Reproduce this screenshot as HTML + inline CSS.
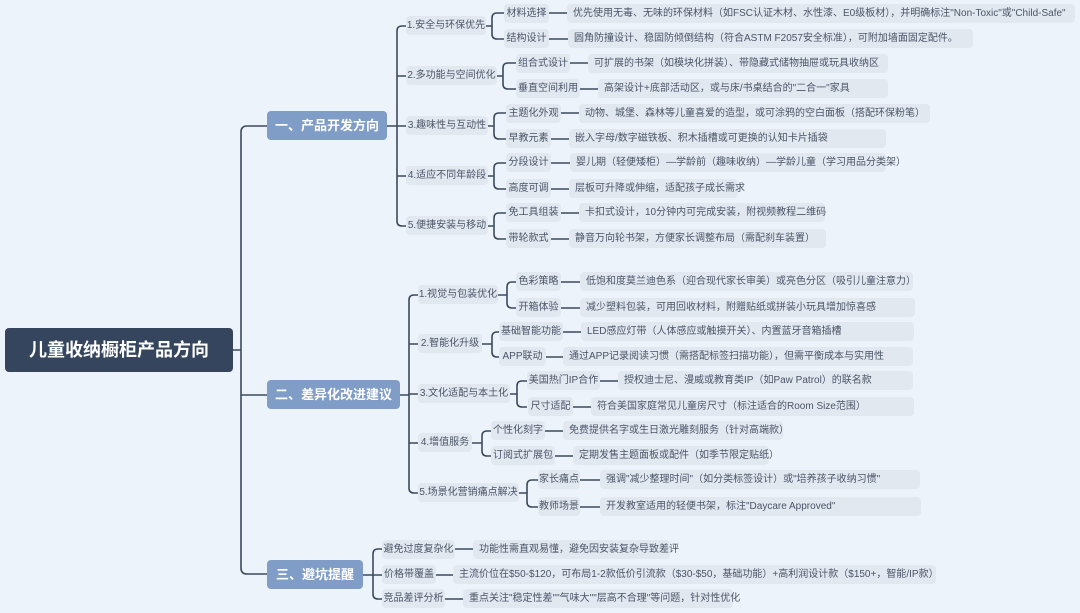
<!DOCTYPE html>
<html><head><meta charset="utf-8">
<style>
html,body{margin:0;padding:0}
body{width:1080px;height:613px;background:#edf3fa;position:relative;overflow:hidden;font-family:"Liberation Sans","Noto Sans CJK SC",sans-serif}
.n{position:absolute;background:#e2e8f0;border-radius:4px;color:#4a5568;font-size:10px;line-height:19px;height:19px;white-space:nowrap;text-align:center;box-sizing:border-box}
.d{padding-left:6px;text-align:left}
.b{position:absolute;background:#7f9dc6;color:#fff;font-weight:bold;font-size:13px;border-radius:4px;text-align:center;line-height:29px;height:29px;white-space:nowrap}
.r{position:absolute;background:#34455d;color:#fff;font-weight:bold;font-size:18px;border-radius:4px;text-align:center;left:5px;top:328px;width:228px;height:44px;line-height:44px}
svg{position:absolute;left:0;top:0}
</style></head><body>
<svg width="1080" height="613" fill="none" stroke="#3b4a5e" stroke-width="1.6">
<path d="M233,350H241M267,126H247Q241,126 241,132V568Q241,574 247,574H267M241,395H267"/>
<path d="M387,126H397M406,26H402Q397,26 397,31V221Q397,226 402,226H406M397,76H406M397,126H406M397,176H406"/>
<path d="M486,26H492M504,13H497Q492,13 492,18V34Q492,39 497,39H504"/>
<path d="M497,76H503M516,63H508Q503,63 503,68V84Q503,89 508,89H516"/>
<path d="M488,126H494M506,113H499Q494,113 494,118V134Q494,139 499,139H506"/>
<path d="M488,176H494M506,163H499Q494,163 494,168V184Q494,189 499,189H506"/>
<path d="M488,226H494M506,213H499Q494,213 494,218V234Q494,239 499,239H506"/>
<path d="M549,13H567M549,39H568M570,63H588M580,89H598M561,113H579M551,139H569M551,163H570M551,189H569M561,213H579M551,239H569"/>
<path d="M400,395H409M418,295H414Q409,295 409,300V488Q409,493 414,493H418M409,344H418M409,394H418M409,443H418"/>
<path d="M498,295H507M516,282H512Q507,282 507,287V303Q507,308 512,308H516"/>
<path d="M482,344H492M499,332H497Q492,332 492,337V352Q492,357 497,357H499"/>
<path d="M510,394H517M527,381H522Q517,381 517,386V402Q517,407 522,407H527"/>
<path d="M472,443H482M491,431H487Q482,431 482,436V451Q482,456 487,456H491"/>
<path d="M519,493H527M538,480H532Q527,480 527,485V502Q527,507 532,507H538"/>
<path d="M561,282H580M561,308H580M563,332H581M546,357H563M600,381H618M573,407H591M545,431H563M555,456H573M580,480H600M580,507H600"/>
<path d="M363,575H382M382,549H378Q373,549 373,554V594Q373,599 378,599H382M455,549H473M436,575H453M445,599H463"/>
</svg>
<div class="r">儿童收纳橱柜产品方向</div>
<div class="b" style="left:267px;top:111px;width:120px">一、产品开发方向</div>
<div class="b" style="left:267px;top:380px;width:133px">二、差异化改进建议</div>
<div class="b" style="left:267px;top:560px;width:96px">三、避坑提醒</div>

<div class="n" style="left:406px;top:16px;width:80px">1.安全与环保优先</div>
<div class="n" style="left:406px;top:66px;width:91px">2.多功能与空间优化</div>
<div class="n" style="left:406px;top:116px;width:82px">3.趣味性与互动性</div>
<div class="n" style="left:406px;top:166px;width:82px">4.适应不同年龄段</div>
<div class="n" style="left:406px;top:216px;width:82px">5.便捷安装与移动</div>

<div class="n" style="left:504px;top:4px;width:45px">材料选择</div>
<div class="n" style="left:504px;top:29px;width:45px">结构设计</div>
<div class="n" style="left:516px;top:54px;width:54px">组合式设计</div>
<div class="n" style="left:516px;top:79px;width:64px">垂直空间利用</div>
<div class="n" style="left:506px;top:104px;width:55px">主题化外观</div>
<div class="n" style="left:506px;top:129px;width:45px">早教元素</div>
<div class="n" style="left:506px;top:153px;width:45px">分段设计</div>
<div class="n" style="left:506px;top:179px;width:45px">高度可调</div>
<div class="n" style="left:506px;top:203px;width:55px">免工具组装</div>
<div class="n" style="left:506px;top:229px;width:45px">带轮款式</div>

<div class="n d" style="left:567px;top:4px;width:508px">优先使用无毒、无味的环保材料（如FSC认证木材、水性漆、E0级板材），并明确标注"Non-Toxic"或"Child-Safe"</div>
<div class="n d" style="left:568px;top:29px;width:405px">圆角防撞设计、稳固防倾倒结构（符合ASTM F2057安全标准），可附加墙面固定配件。</div>
<div class="n d" style="left:588px;top:54px;width:300px">可扩展的书架（如模块化拼装）、带隐藏式储物抽屉或玩具收纳区</div>
<div class="n d" style="left:598px;top:79px;width:290px">高架设计+底部活动区，或与床/书桌结合的"二合一"家具</div>
<div class="n d" style="left:579px;top:104px;width:351px">动物、城堡、森林等儿童喜爱的造型，或可涂鸦的空白面板（搭配环保粉笔）</div>
<div class="n d" style="left:569px;top:129px;width:317px">嵌入字母/数字磁铁板、积木插槽或可更换的认知卡片插袋</div>
<div class="n d" style="left:570px;top:153px;width:316px">婴儿期（轻便矮柜）—学龄前（趣味收纳）—学龄儿童（学习用品分类架）</div>
<div class="n d" style="left:569px;top:179px;width:169px">层板可升降或伸缩，适配孩子成长需求</div>
<div class="n d" style="left:579px;top:203px;width:246px">卡扣式设计，10分钟内可完成安装，附视频教程二维码</div>
<div class="n d" style="left:569px;top:229px;width:257px">静音万向轮书架，方便家长调整布局（需配刹车装置）</div>

<div class="n" style="left:418px;top:285px;width:80px">1.视觉与包装优化</div>
<div class="n" style="left:418px;top:334px;width:64px">2.智能化升级</div>
<div class="n" style="left:418px;top:384px;width:92px">3.文化适配与本土化</div>
<div class="n" style="left:418px;top:433px;width:54px">4.增值服务</div>
<div class="n" style="left:418px;top:483px;width:101px">5.场景化营销痛点解决</div>

<div class="n" style="left:516px;top:272px;width:45px">色彩策略</div>
<div class="n" style="left:516px;top:298px;width:45px">开箱体验</div>
<div class="n" style="left:499px;top:322px;width:64px">基础智能功能</div>
<div class="n" style="left:499px;top:347px;width:47px">APP联动</div>
<div class="n" style="left:527px;top:371px;width:73px">美国热门IP合作</div>
<div class="n" style="left:528px;top:397px;width:45px">尺寸适配</div>
<div class="n" style="left:491px;top:421px;width:54px">个性化刻字</div>
<div class="n" style="left:491px;top:446px;width:64px">订阅式扩展包</div>
<div class="n" style="left:538px;top:470px;width:42px">家长痛点</div>
<div class="n" style="left:538px;top:497px;width:42px">教师场景</div>

<div class="n d" style="left:580px;top:272px;width:333px">低饱和度莫兰迪色系（迎合现代家长审美）或亮色分区（吸引儿童注意力）</div>
<div class="n d" style="left:580px;top:298px;width:335px">减少塑料包装，可用回收材料，附赠贴纸或拼装小玩具增加惊喜感</div>
<div class="n d" style="left:581px;top:322px;width:333px">LED感应灯带（人体感应或触摸开关）、内置蓝牙音箱插槽</div>
<div class="n d" style="left:563px;top:347px;width:350px">通过APP记录阅读习惯（需搭配标签扫描功能），但需平衡成本与实用性</div>
<div class="n d" style="left:618px;top:371px;width:295px">授权迪士尼、漫威或教育类IP（如Paw Patrol）的联名款</div>
<div class="n d" style="left:591px;top:397px;width:323px">符合美国家庭常见儿童房尺寸（标注适合的Room Size范围）</div>
<div class="n d" style="left:563px;top:421px;width:220px">免费提供名字或生日激光雕刻服务（针对高端款）</div>
<div class="n d" style="left:573px;top:446px;width:196px">定期发售主题面板或配件（如季节限定贴纸）</div>
<div class="n d" style="left:600px;top:470px;width:320px">强调"减少整理时间"（如分类标签设计）或"培养孩子收纳习惯"</div>
<div class="n d" style="left:600px;top:497px;width:321px">开发教室适用的轻便书架，标注"Daycare Approved"</div>

<div class="n" style="left:382px;top:540px;width:73px">避免过度复杂化</div>
<div class="n" style="left:382px;top:565px;width:54px">价格带覆盖</div>
<div class="n" style="left:382px;top:589px;width:63px">竞品差评分析</div>
<div class="n d" style="left:473px;top:540px;width:197px">功能性需直观易懂，避免因安装复杂导致差评</div>
<div class="n d" style="left:453px;top:565px;width:483px">主流价位在$50-$120，可布局1-2款低价引流款（$30-$50，基础功能）+高利润设计款（$150+，智能/IP款）</div>
<div class="n d" style="left:463px;top:589px;width:270px">重点关注"稳定性差""气味大""层高不合理"等问题，针对性优化</div>
</body></html>
